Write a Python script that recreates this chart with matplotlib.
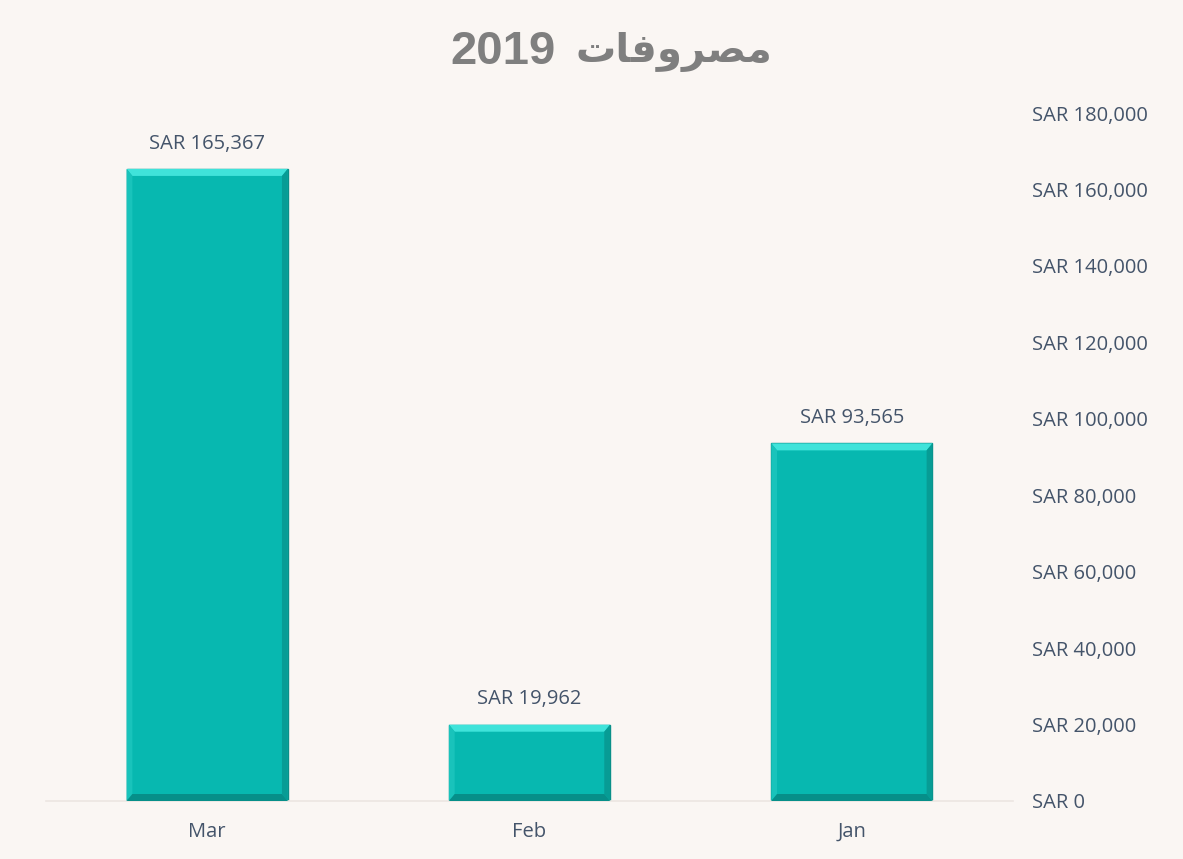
import matplotlib.pyplot as plt
from matplotlib.patches import Polygon
from matplotlib.ticker import FuncFormatter

# data (RTL order, as shown)
months = ['Mar', 'Feb', 'Jan']
expenses = [165367, 19962, 93565]
y_ticks = list(range(0, 180001, 20000))

# Arabic title in presentation forms, visual order (matplotlib has no shaping)
title_ar = '\uFE95\uFE8E\uFED3\uFEED\uFEAE\uFEBC\uFEE3'
title_year = '2019'

bg = '#FAF6F3'
txt = '#44546A'
teal = '#07B8B0'
fs = 14.5

fig = plt.figure(figsize=(11.83, 8.59), dpi=100, facecolor=bg)
ax = fig.add_axes([46 / 1183, 1 - 801 / 859, (1013 - 46) / 1183, (801 - 113) / 859])
ax.set_facecolor(bg)

x = list(range(len(months)))
bars = ax.bar(x, expenses, width=0.5, color=teal, edgecolor='#0A8F88', linewidth=1.0, zorder=2)
ax.set_xlim(-0.5, len(months) - 0.5)
ax.set_ylim(0, 180000)

# simple bevel look on each bar
bx = 0.018
by = 180000 * 7 / 688
for b in bars:
    x0, x1 = b.get_x(), b.get_x() + b.get_width()
    h = b.get_height()
    top = Polygon([(x0, h), (x1, h), (x1 - bx, h - by), (x0 + bx, h - by)],
                  closed=True, facecolor='#3FE3DA', edgecolor='none', zorder=3)
    left = Polygon([(x0, 0), (x0, h), (x0 + bx, h - by), (x0 + bx, by)],
                   closed=True, facecolor='#19C3BB', edgecolor='none', zorder=3)
    right = Polygon([(x1, 0), (x1, h), (x1 - bx, h - by), (x1 - bx, by)],
                    closed=True, facecolor='#079C95', edgecolor='none', zorder=3)
    bottom = Polygon([(x0, 0), (x1, 0), (x1 - bx, by), (x0 + bx, by)],
                     closed=True, facecolor='#068F89', edgecolor='none', zorder=3)
    for p in (top, left, right, bottom):
        ax.add_patch(p)
    ax.annotate(f'SAR {int(h):,}', (b.get_x() + b.get_width() / 2, h),
                xytext=(0, 11), textcoords='offset points', ha='center', va='bottom',
                fontsize=fs, color=txt, family='Open Sans')

ax.set_xticks(x)
ax.set_xticklabels(months, fontsize=fs, color=txt, family='Open Sans')
ax.set_yticks(y_ticks)
ax.yaxis.tick_right()
ax.yaxis.set_major_formatter(FuncFormatter(lambda v, p: f'SAR {int(v):,}'))
for lb in ax.get_yticklabels():
    lb.set_fontsize(fs)
    lb.set_color(txt)
    lb.set_family('Open Sans')
ax.tick_params(axis='both', length=0)
ax.tick_params(axis='y', pad=14)
ax.tick_params(axis='x', pad=15)

for s in ['top', 'left', 'right']:
    ax.spines[s].set_visible(False)
ax.spines['bottom'].set_color('#ECE6E2')
ax.spines['bottom'].set_linewidth(1.2)

# title: year (left) + Arabic word (right), as in the RTL original
ty = 1 - 52 / 859
fig.text(556 / 1183, ty, title_year, ha='right', va='center', fontsize=34,
         fontweight='bold', color='#7F7F7F', family='Liberation Sans')
fig.text(576 / 1183, ty, title_ar, ha='left', va='center', fontsize=29,
         fontweight='bold', color='#7F7F7F', family='DejaVu Sans')

plt.savefig('out.png', dpi=100, facecolor=bg)
plt.close()
